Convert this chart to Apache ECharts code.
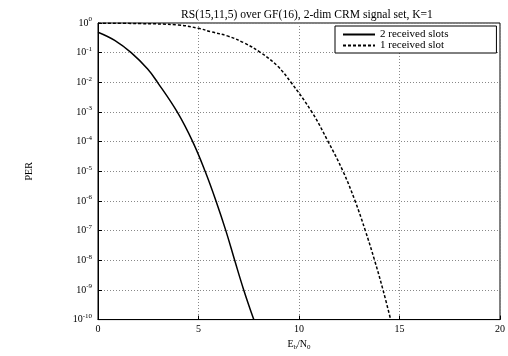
<!DOCTYPE html>
<html>
<head>
<meta charset="utf-8">
<script src="https://cdn.jsdelivr.net/npm/echarts@6/dist/echarts.min.js"></script>
<style>
  html, body { margin: 0; padding: 0; background: #fff; }
  #chart { width: 508px; height: 356px; }
</style>
</head>
<body>
<div id="chart"></div>
<script>
// Eb/N0 values and packet error rate
const ebnoTwo = [0, 0.83, 1.65, 2.47, 2.96, 3.94, 4.71, 5.33, 5.87, 6.36, 6.8, 7.25, 7.75];
const perTwo = [0.49, 0.26, 0.1, 0.028, 1e-2, 1e-3, 1e-4, 1e-5, 1e-6, 1e-7, 1e-8, 1e-9, 1e-10];

const ebnoOne = [0, 2, 4, 5, 5.65, 6.47, 7.29, 8.1, 8.92, 9.6, 10.64, 11.45, 12.19, 12.79, 13.3, 13.76, 14.18, 14.56];
const perOne = [0.99, 0.96, 0.86, 0.66, 0.5, 0.36, 0.21, 0.1, 0.036, 1e-2, 1e-3, 1e-4, 1e-5, 1e-6, 1e-7, 1e-8, 1e-9, 1e-10];

const seriesNames = ['2 received slots', '1 received slot'];
const xTicks = [0, 5, 10, 15, 20];

const font = 'Liberation Serif';
const zip = (xs, ys) => xs.map((x, i) => [x, ys[i]]);

const chart = echarts.init(document.getElementById('chart'));
chart.setOption({
  animation: false,
  backgroundColor: '#fff',
  title: {
    text: 'RS(15,11,5) over GF(16), 2-dim CRM signal set, K=1',
    left: 302, top: 4, textAlign: 'center',
    textStyle: { fontFamily: font, fontSize: 11.6, fontWeight: 'normal', color: '#000' }
  },
  legend: {
    data: seriesNames,
    orient: 'vertical',
    left: 335, top: 26,
    padding: [3, 48, 2, 7],
    itemGap: 0,
    itemWidth: 32, itemHeight: 10,
    backgroundColor: '#fff',
    borderColor: '#000', borderWidth: 1,
    itemStyle: { opacity: 0 },
    textStyle: { fontFamily: font, fontSize: 11, lineHeight: 10, color: '#000' }
  },
  grid: {
    left: 98, right: 2, top: 23, bottom: 30,
    show: true, borderColor: '#000', borderWidth: 1
  },
  xAxis: {
    type: 'value', min: 0, max: 20, interval: 5,
    name: '{a|E}{s|b}{a|/N}{s|0}',
    nameLocation: 'middle', nameGap: 16,
    nameTextStyle: {
      rich: {
        a: { fontFamily: font, fontSize: 10, color: '#000' },
        s: { fontFamily: font, fontSize: 7, color: '#000', padding: [6, 0, 0, 0] }
      }
    },
    axisLine: { lineStyle: { color: '#000' } },
    axisTick: { inside: true, length: 4, lineStyle: { color: '#000' } },
    axisLabel: { fontFamily: font, fontSize: 10, color: '#000', margin: 5,
      formatter: v => xTicks.includes(v) ? String(v) : '' },
    splitLine: { show: true, lineStyle: { color: '#888', type: [1, 2], width: 1 } }
  },
  yAxis: {
    type: 'log', logBase: 10, min: 1e-10, max: 1, interval: 1,
    name: 'PER', nameLocation: 'middle', nameGap: 64,
    nameTextStyle: { fontFamily: font, fontSize: 10, color: '#000' },
    axisLine: { lineStyle: { color: '#000' } },
    axisTick: { inside: true, length: 4, lineStyle: { color: '#000' } },
    axisLabel: {
      margin: 6,
      formatter: v => '{b|10}{s|' + Math.round(Math.log10(v)) + '}',
      rich: {
        b: { fontFamily: font, fontSize: 10, color: '#000' },
        s: { fontFamily: font, fontSize: 7, color: '#000', padding: [0, 0, 7, 0] }
      }
    },
    splitLine: { show: true, lineStyle: { color: '#888', type: [1, 2], width: 1 } }
  },
  series: [
    {
      name: seriesNames[0], type: 'line', smooth: 0.4, symbol: 'none',
      data: zip(ebnoTwo, perTwo),
      lineStyle: { color: '#000', width: 1.5, type: 'solid' },
      itemStyle: { color: '#000' }
    },
    {
      name: seriesNames[1], type: 'line', smooth: 0.4, symbol: 'none',
      data: zip(ebnoOne, perOne),
      lineStyle: { color: '#000', width: 1.5, type: [3, 2] },
      itemStyle: { color: '#000' }
    }
  ]
});
</script>
</body>
</html>
